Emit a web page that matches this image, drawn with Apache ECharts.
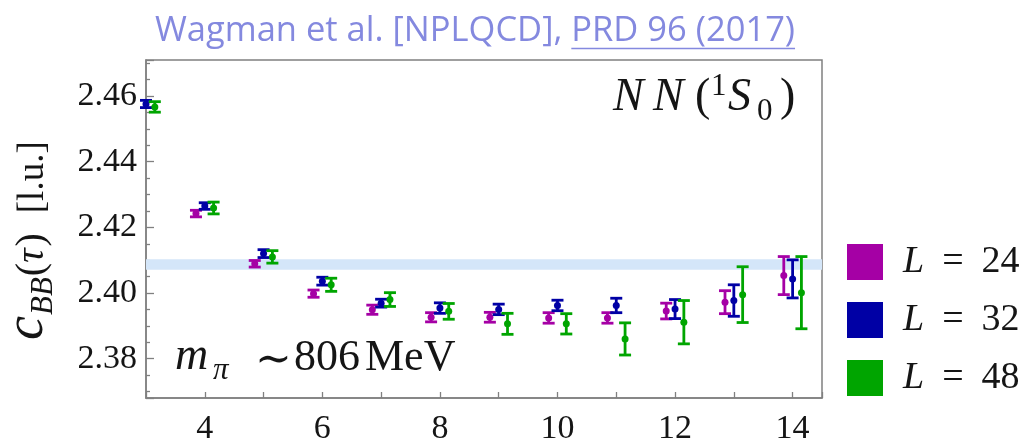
<!DOCTYPE html>
<html>
<head>
<meta charset="utf-8">
<script src="https://cdn.jsdelivr.net/npm/echarts@6/dist/echarts.min.js"></script>
<style>
  html, body { margin: 0; padding: 0; background: #ffffff; }
  #chart { width: 1025px; height: 440px; }
</style>
</head>
<body>
<div id="chart"></div>
<script>
// Euclidean time slices
const tau = [3, 4, 5, 6, 7, 8, 9, 10, 11, 12, 13, 14];
const latticeSizes = [24, 32, 48];
// two-baryon correlator (lattice units): central values and uncertainties
const meanL24 = [null, 2.4242, 2.4089, 2.3998, 2.3949, 2.3926, 2.3926, 2.3924, 2.3924, 2.3945, 2.3972, 2.4053];
const errL24  = [null, 0.0010, 0.0010, 0.0011, 0.0014, 0.0014, 0.0015, 0.0016, 0.0016, 0.0024, 0.0035, 0.0058];
const meanL32 = [2.4576, 2.4265, 2.4120, 2.4036, 2.3969, 2.3954, 2.3950, 2.3962, 2.3962, 2.3951, 2.3977, 2.4043];
const errL32  = [0.0011, 0.0010, 0.0012, 0.0012, 0.0012, 0.0016, 0.0016, 0.0016, 0.0022, 0.0029, 0.0048, 0.0058];
const meanL48 = [2.4567, 2.4259, 2.4110, 2.4025, 2.3980, 2.3944, 2.3906, 2.3906, 2.3860, 2.3911, 2.3995, 2.4001];
const errL48  = [0.0016, 0.0018, 0.0019, 0.0020, 0.0021, 0.0024, 0.0032, 0.0031, 0.0049, 0.0066, 0.0085, 0.0110];
// horizontal shift of each volume around the time slice
const tauShift = [-0.15, 0, 0.15];
// fitted infinite-volume band
const bandRange = [2.4071, 2.4103];
const xTickLabels = [4, 6, 8, 10, 12, 14];
const yTickLabels = [2.38, 2.40, 2.42, 2.44, 2.46];

const colors = ['#a500a5', '#0000a5', '#00a500'];
const means = [meanL24, meanL32, meanL48];
const errs = [errL24, errL32, errL48];

const SERIF = "'Liberation Serif','DejaVu Serif',serif";
const SANS = "'Open Sans','Noto Sans',sans-serif";
const TEXT = '#151515';
const FRAME = '#808080';

const measureCtx = document.createElement('canvas').getContext('2d');
function fontStr(r) {
  return (r.italic ? 'italic ' : '') + r.size + 'px ' + (r.family || SERIF);
}
// lay out text runs on a common baseline; each run may shift (dy) or jump to an x
function layoutRuns(runs, x0, baseline, color) {
  let x = x0;
  const elements = [];
  const starts = [];
  runs.forEach(r => {
    if (r.x != null) x = r.x; else x += (r.gap || 0);
    const f = fontStr(r);
    measureCtx.font = f;
    const w = measureCtx.measureText(r.t).width;
    starts.push(x);
    elements.push({
      type: 'text', x: x, y: baseline + (r.dy || 0) - 0.34 * r.size,
      style: { text: r.t, font: f, fill: color, align: 'left', verticalAlign: 'middle',
               textAlign: 'left', textVerticalAlign: 'middle' }
    });
    x += w;
  });
  return { elements, end: x, starts };
}

function errorBarRenderer(color) {
  return function (params, api) {
    const x = api.value(0), y = api.value(1), e = api.value(2);
    const c = api.coord([x, y]);
    const lo = api.coord([x, y - e]);
    const hi = api.coord([x, y + e]);
    const hw = 6;
    const st = { stroke: color, lineWidth: 2.8 };
    return {
      type: 'group',
      children: [
        { type: 'line', shape: { x1: c[0], y1: lo[1], x2: c[0], y2: hi[1] }, style: st },
        { type: 'line', shape: { x1: c[0] - hw, y1: lo[1], x2: c[0] + hw, y2: lo[1] }, style: st },
        { type: 'line', shape: { x1: c[0] - hw, y1: hi[1], x2: c[0] + hw, y2: hi[1] }, style: st },
        { type: 'circle', shape: { cx: c[0], cy: c[1], r: 3.5 }, style: { fill: color } }
      ]
    };
  };
}

const errorSeries = latticeSizes.map((L, k) => ({
  name: 'L = ' + L,
  type: 'custom',
  z: 3,
  clip: false,
  itemStyle: { color: colors[k] },
  renderItem: errorBarRenderer(colors[k]),
  data: tau.map((t, i) => means[k][i] == null ? null : [t + tauShift[k], means[k][i], errs[k][i]])
           .filter(d => d !== null)
}));

const bandSeries = {
  name: 'band',
  type: 'custom',
  z: 1,
  silent: true,
  renderItem: function (params, api) {
    const a = api.coord([api.value(0), api.value(3)]);
    const b = api.coord([api.value(1), api.value(2)]);
    return { type: 'rect', shape: { x: a[0], y: a[1], width: b[0] - a[0], height: b[1] - a[1] },
             style: { fill: '#d4e6f9' } };
  },
  data: [[3, 14.5, bandRange[0], bandRange[1]]]
};

// title line with underlined reference
const titleRuns = layoutRuns([
  { t: 'Wagman et al. [NPLQCD], ', size: 34.5, family: SANS },
  { t: 'PRD 96 (2017)', size: 34.5, family: SANS }
], 155, 43, '#8489df');

// channel label
const channelRuns = layoutRuns([
  { t: 'N', size: 46, italic: true, x: 613 },
  { t: 'N', size: 46, italic: true, x: 653 },
  { t: '(', size: 46, x: 695 },
  { t: '1', size: 31, dy: -17, x: 711 },
  { t: 'S', size: 46, italic: true, x: 728 },
  { t: '0', size: 31, dy: 8, x: 757 },
  { t: ')', size: 46, x: 780 }
], 613, 114, TEXT);

// pion-mass label
const massRuns = layoutRuns([
  { t: 'm', size: 46, italic: true, x: 175 },
  { t: 'π', size: 31, italic: true, dy: 8, x: 213 },
  { t: '∼', size: 44, dy: 3, x: 255 },
  { t: '806', size: 44, x: 294 },
  { t: 'MeV', size: 44, x: 365 }
], 175, 373, TEXT);

// vertical axis title, laid out along the rotated baseline
const yTitleRuns = layoutRuns([
  { t: 'c', size: 54, italic: true },
  { t: 'BB', size: 31, italic: true, dy: 8, gap: 1 },
  { t: '(', size: 40, gap: 1 },
  { t: 'τ', size: 40, italic: true },
  { t: ')', size: 40, gap: 2 },
  { t: '[l.u.]', size: 37, gap: 20 }
], 0, 0, TEXT);

const chart = echarts.init(document.getElementById('chart'), null, { renderer: 'canvas' });
chart.setOption({
  animation: false,
  backgroundColor: '#ffffff',
  grid: {
    left: 146, right: 203, top: 60, bottom: 42,
    show: true, borderColor: FRAME, borderWidth: 1.5,
    containLabel: false, outerBoundsMode: 'none'
  },
  xAxis: {
    type: 'value', min: 3, max: 14.5, interval: 1,
    axisLine: { show: true, lineStyle: { color: FRAME, width: 1.5 } },
    axisTick: { show: true, inside: true, length: 6, lineStyle: { color: FRAME, width: 1.3 } },
    axisLabel: {
      margin: 14, fontFamily: SERIF, fontSize: 34, color: TEXT,
      formatter: v => xTickLabels.includes(v) ? String(v) : ''
    },
    splitLine: { show: false }
  },
  yAxis: {
    type: 'value', min: 2.368, max: 2.471, splitNumber: 5,
    axisLine: { show: true, lineStyle: { color: FRAME, width: 1.5 } },
    axisTick: { show: true, inside: true, length: 8, lineStyle: { color: FRAME, width: 1.3 } },
    minorTick: { show: true, splitNumber: 4, length: 4, lineStyle: { color: FRAME, width: 1.3 } },
    axisLabel: {
      margin: 9, fontFamily: SERIF, fontSize: 34, color: TEXT,
      showMinLabel: true, showMaxLabel: true,
      formatter: v => {
        const hit = yTickLabels.find(t => Math.abs(t - v) < 1e-6);
        return hit === undefined ? '' : hit.toFixed(2);
      }
    },
    splitLine: { show: false },
    minorSplitLine: { show: false }
  },
  legend: {
    data: errorSeries.map(s => s.name),
    orient: 'vertical', left: 847, top: 243, padding: 0,
    itemWidth: 36, itemHeight: 36, itemGap: 20, icon: 'rect',
    textStyle: {
      fontFamily: SERIF, fontSize: 38, color: TEXT, padding: [0, 0, 0, 15], lineHeight: 36,
      rich: {
        i: { fontFamily: SERIF, fontStyle: 'italic', fontSize: 38, lineHeight: 36, color: TEXT },
        e: { fontFamily: SERIF, fontSize: 38, lineHeight: 36, color: TEXT, padding: [0, 18, 0, 18] },
        n: { fontFamily: SERIF, fontSize: 38, lineHeight: 36, color: TEXT }
      }
    },
    formatter: name => '{i|L}{e|=}{n|' + name.split('= ')[1] + '}'
  },
  graphic: [
    ...titleRuns.elements,
    { type: 'line', shape: { x1: titleRuns.starts[1], y1: 48.5, x2: titleRuns.end, y2: 48.5 },
      style: { stroke: '#8489df', lineWidth: 1.5 } },
    ...channelRuns.elements,
    ...massRuns.elements,
    { type: 'group', x: 46, y: 340, rotation: Math.PI / 2, children: yTitleRuns.elements }
  ],
  series: [bandSeries, ...errorSeries]
});
</script>
</body>
</html>
